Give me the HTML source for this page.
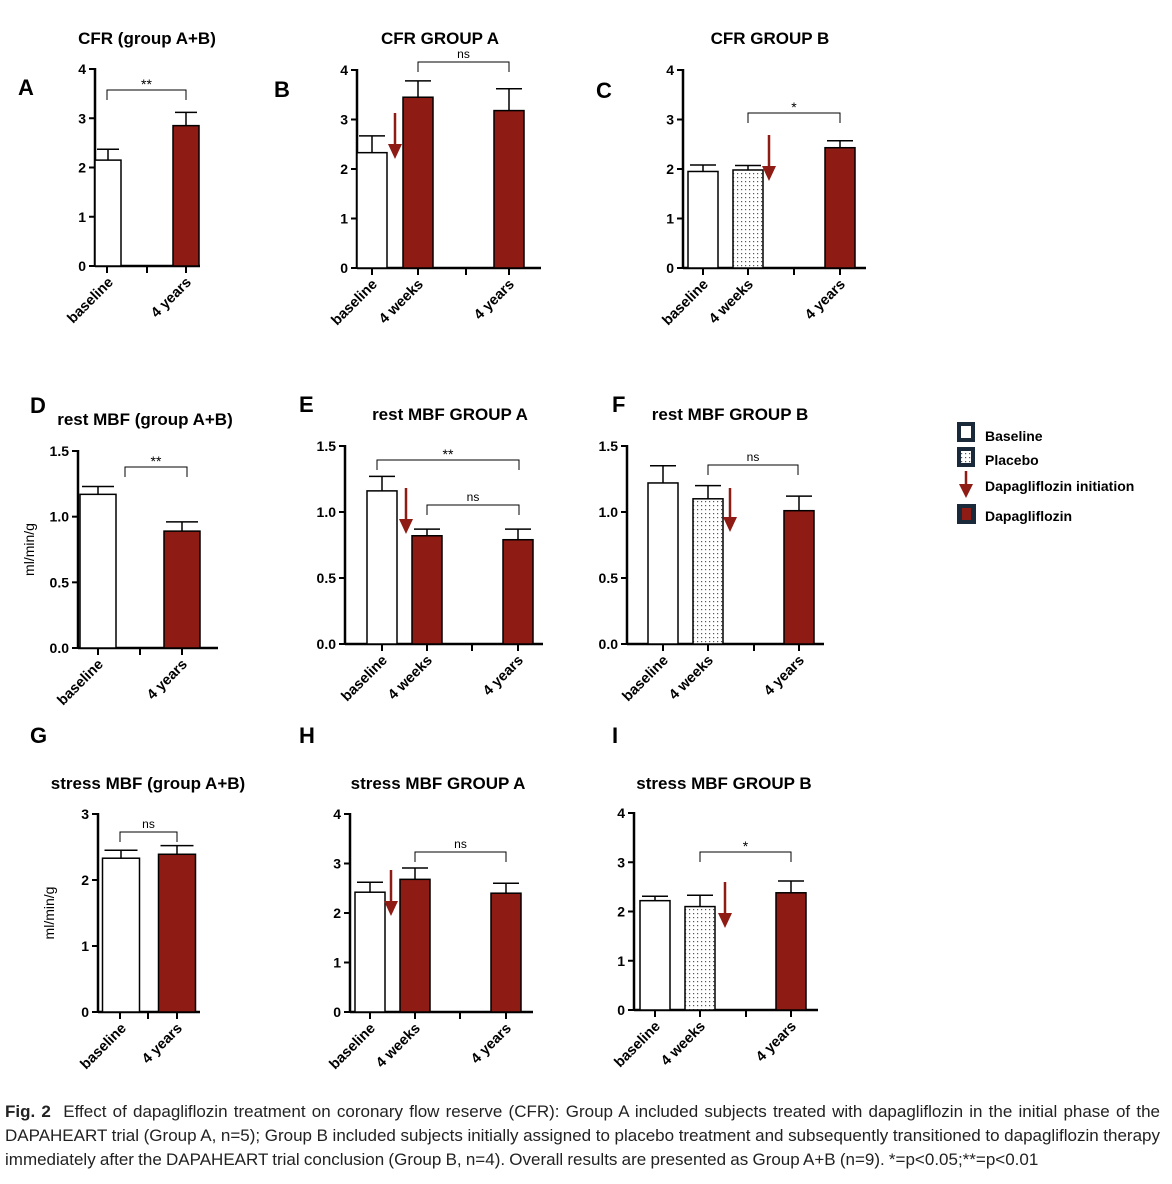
<!DOCTYPE html>
<html><head><meta charset="utf-8"><style>
body{margin:0;background:#fff;width:1172px;height:1184px;overflow:hidden}
svg text{font-family:"Liberation Sans",Arial,sans-serif}
.cap{position:absolute;left:5px;top:1100px;width:1155px;font:17px/24px "Liberation Sans",sans-serif;text-align:justify;text-align-last:left;color:#222;word-spacing:-0.5px}
</style></head><body>
<svg id="fig" width="1172" height="1100" style="position:absolute;left:0;top:0">
<defs><pattern id="dots" width="4" height="4" patternUnits="userSpaceOnUse"><rect width="4" height="4" fill="#fff"/><rect x="1" y="1" width="1.2" height="1.2" fill="#555"/></pattern></defs>
</svg>
<div class="cap"><b>Fig. 2</b>&nbsp; Effect of dapagliflozin treatment on coronary flow reserve (CFR): Group A included subjects treated with dapagliflozin in the initial phase of the DAPAHEART trial (Group A, n=5); Group B included subjects initially assigned to placebo treatment and subsequently transitioned to dapagliflozin therapy immediately after the DAPAHEART trial conclusion (Group B, n=4). Overall results are presented as Group A+B (n=9). *=p&lt;0.05;**=p&lt;0.01</div>
<script>
const catsAB = ["baseline","4 years"];
const cats3 = ["baseline","4 weeks","4 years"];
const valA = [2.15,2.85], errA=[0.22,0.27];
const valB = [2.33,3.45,3.18], errB=[0.34,0.33,0.44];
const valC = [1.95,1.98,2.43], errC=[0.13,0.09,0.14];
const valD = [1.17,0.89], errD=[0.06,0.07];
const valE = [1.16,0.82,0.79], errE=[0.11,0.05,0.08];
const valF = [1.22,1.10,1.01], errF=[0.13,0.10,0.11];
const valG = [2.33,2.39], errG=[0.12,0.13];
const valH = [2.42,2.68,2.40], errH=[0.20,0.23,0.20];
const valI = [2.22,2.10,2.38], errI=[0.09,0.23,0.24];
const ticks4 = ["0","1","2","3","4"];
const ticks3 = ["0","1","2","3"];
const ticks15 = ["0.0","0.5","1.0","1.5"];
const RED="#8e1b14";
const svg=document.getElementById('fig');
function el(t,a,p){const e=document.createElementNS('http://www.w3.org/2000/svg',t);for(const k in a)e.setAttribute(k,a[k]);(p||svg).appendChild(e);return e;}
function txt(s,a,p){const e=el('text',a,p);e.textContent=s;return e;}
function panel(P){
  const g=el('g',{});
  
  
  const y=v=>P.y0-v/P.max*(P.y0-P.yt);
  const t=txt(P.title,{x:P.tc,y:P.ty,'text-anchor':'middle','font-size':17,'font-weight':'bold'},g);
  
  
  const l=txt(P.letter,{x:P.lx,y:P.ly,'font-size':22,'font-weight':'bold'},g);
  
  
  if(P.ylab){const yl=txt('ml/min/g',{x:0,y:0,transform:`translate(${P.ax-44},${(P.y0+P.yt)/2}) rotate(-90)`,'text-anchor':'middle','font-size':14},g);
    }
  el('line',{x1:P.ax,y1:P.yt-1,x2:P.ax,y2:P.y0+1,stroke:'#000','stroke-width':2.5},g);
  el('line',{x1:P.ax,y1:P.y0,x2:P.xe,y2:P.y0,stroke:'#000','stroke-width':2.5},g);
  P.ticks.forEach((s,i)=>{const v=i*P.max/(P.ticks.length-1);const yy=y(v);
    el('line',{x1:P.ax-6,y1:yy,x2:P.ax,y2:yy,stroke:'#000','stroke-width':2},g);
    const tk=txt(s,{x:P.ax-9,y:yy+5,'text-anchor':'end','font-size':14,'font-weight':'bold'},g);
    });
  P.tx.forEach(x=>el('line',{x1:x,y1:P.y0,x2:x,y2:P.y0+7,stroke:'#000','stroke-width':2},g));
  P.vals.forEach((v,i)=>{const cx=P.cx[i];const top=y(v);const w=P.bw;
    const fill=P.fills[i]==='r'?RED:(P.fills[i]==='d'?'url(#dots)':'#fff');
    const b=el('rect',{x:cx-w/2,y:top,width:w,height:P.y0-top,fill:fill,stroke:'#000','stroke-width':1.5},g);
    
    
    const et=y(v+P.errs[i]);
    el('line',{x1:cx,y1:top,x2:cx,y2:et,stroke:'#000','stroke-width':1.5},g);
    el('line',{x1:cx-w/2+2,y1:et,x2:cx+w/2-2,y2:et,stroke:'#000','stroke-width':1.5},g);
    const c=txt(P.cats[i],{x:0,y:0,transform:`translate(${cx+6},${P.y0+17}) rotate(-45)`,'text-anchor':'end','font-size':14.5,'font-weight':'bold'},g);
    
  });
  (P.br||[]).forEach(b=>{const[x1,x2,yy,s]=b;
    el('path',{d:`M${x1},${yy+10}V${yy}H${x2}V${yy+10}`,fill:'none',stroke:'#000','stroke-width':1},g);
    const st=txt(s,{x:(x1+x2)/2,y:s==='ns'?yy-4:yy-1,'text-anchor':'middle','font-size':s==='ns'?12:14},g);
    });
  if(P.arrow){const[x,y1,y2]=P.arrow;
    el('line',{x1:x,y1:y1,x2:x,y2:y2-12,stroke:RED,'stroke-width':2.5},g);
    const a=el('path',{d:`M${x-7},${y2-15}L${x+7},${y2-15}L${x},${y2}Z`,fill:RED},g);
    }
}
panel({name:'panel-a',title:'CFR (group A+B)',tc:147,ty:44,letter:'A',lx:18,ly:95,ax:95,y0:266,yt:69,max:4,xe:200,ticks:ticks4,tx:[107,147,186],cx:[108,186],bw:26,cats:catsAB,vals:valA,errs:errA,fills:['w','r'],br:[[107,186,90,'**']]});
panel({name:'panel-b',title:'CFR GROUP A',tc:440,ty:44,letter:'B',lx:274,ly:97,ax:357,y0:268,yt:70,max:4,xe:541,ticks:ticks4,tx:[372,418,466,509],cx:[372,418,509],bw:30,cats:cats3,vals:valB,errs:errB,fills:['w','r','r'],br:[[418,509,62,'ns']],arrow:[395,113,159]});
panel({name:'panel-c',title:'CFR GROUP B',tc:770,ty:44,letter:'C',lx:596,ly:98,ax:683,y0:268,yt:70,max:4,xe:866,ticks:ticks4,tx:[703,748,794,840],cx:[703,748,840],bw:30,cats:cats3,vals:valC,errs:errC,fills:['w','d','r'],br:[[748,840,113,'*']],arrow:[769,135,181]});
panel({name:'panel-d',title:'rest MBF (group A+B)',tc:145,ty:425,letter:'D',lx:30,ly:413,ax:78,y0:648,yt:451,max:1.5,xe:218,ticks:ticks15,tx:[98,140,182],cx:[98,182],bw:36,cats:catsAB,vals:valD,errs:errD,fills:['w','r'],br:[[125,187,467,'**']],ylab:true});
panel({name:'panel-e',title:'rest MBF GROUP A',tc:450,ty:420,letter:'E',lx:299,ly:412,ax:345,y0:644,yt:446,max:1.5,xe:543,ticks:ticks15,tx:[382,427,472,518],cx:[382,427,518],bw:30,cats:cats3,vals:valE,errs:errE,fills:['w','r','r'],br:[[377,519,460,'**'],[427,519,505,'ns']],arrow:[406,488,534]});
panel({name:'panel-f',title:'rest MBF GROUP B',tc:730,ty:420,letter:'F',lx:612,ly:412,ax:627,y0:644,yt:446,max:1.5,xe:824,ticks:ticks15,tx:[663,708,754,799],cx:[663,708,799],bw:30,cats:cats3,vals:valF,errs:errF,fills:['w','d','r'],br:[[708,798,465,'ns']],arrow:[730,488,532]});
panel({name:'panel-g',title:'stress MBF (group A+B)',tc:148,ty:789,letter:'G',lx:30,ly:743,ax:98,y0:1012,yt:814,max:3,xe:200,ticks:ticks3,tx:[120,148,177],cx:[121,177],bw:37,cats:catsAB,vals:valG,errs:errG,fills:['w','r'],br:[[120,177,832,'ns']],ylab:true});
panel({name:'panel-h',title:'stress MBF GROUP A',tc:438,ty:789,letter:'H',lx:299,ly:743,ax:350,y0:1012,yt:814,max:4,xe:533,ticks:ticks4,tx:[370,415,460,506],cx:[370,415,506],bw:30,cats:cats3,vals:valH,errs:errH,fills:['w','r','r'],br:[[415,506,852,'ns']],arrow:[391,870,916]});
panel({name:'panel-i',title:'stress MBF GROUP B',tc:724,ty:789,letter:'I',lx:612,ly:743,ax:634,y0:1010,yt:813,max:4,xe:818,ticks:ticks4,tx:[655,700,746,791],cx:[655,700,791],bw:30,cats:cats3,vals:valI,errs:errI,fills:['w','d','r'],br:[[700,791,852,'*']],arrow:[725,882,928]});
const lg=el('g',{});


el('rect',{x:957,y:422,width:18,height:20,fill:'#1a2a3a'},lg);el('rect',{x:961,y:426,width:10,height:12,fill:'#fff'},lg);
el('rect',{x:957,y:447,width:18,height:20,fill:'#1a2a3a'},lg);el('rect',{x:961,y:451,width:10,height:12,fill:'url(#dots)'},lg);
el('line',{x1:966,y1:471,x2:966,y2:486,stroke:RED,'stroke-width':2.5},lg);el('path',{d:'M959,484L973,484L966,498Z',fill:RED},lg);
el('rect',{x:957,y:504,width:19,height:20,fill:'#1a2a3a'},lg);el('rect',{x:962,y:508,width:9,height:12,fill:RED},lg);
[['Baseline',441],['Placebo',465],['Dapagliflozin initiation',491],['Dapagliflozin',521]].forEach(([s,yy])=>{
  const e=txt(s,{x:985,y:yy,'font-size':14,'font-weight':'bold'},lg);
  
  });
</script>
</body></html>
